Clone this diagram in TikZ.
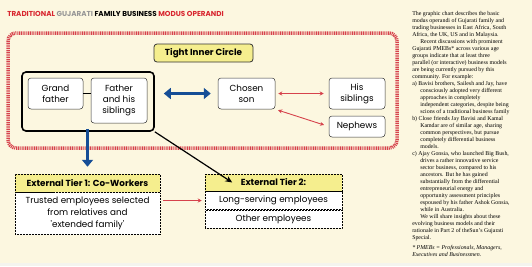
\documentclass[tikz,border=0pt]{standalone}
\usepackage{fontspec}
\setmainfont{Liberation Serif}
\newfontfamily\gothic{Poppins}
\usetikzlibrary{arrows.meta,calc}

\definecolor{cream}{RGB}{252,247,224}
\definecolor{strip}{RGB}{244,244,238}
\definecolor{tieryellow}{RGB}{245,238,142}
\definecolor{hatchred}{RGB}{214,66,76}
\definecolor{titlered}{RGB}{216,38,47}
\definecolor{titlegrey}{RGB}{150,150,150}
\definecolor{arrowblue}{RGB}{22,78,150}

\begin{document}
\begin{tikzpicture}[x=1pt,y=-1pt,line width=0.5pt,
    member/.style={draw=black!80,fill=white,rounded corners=3pt,align=center,
      inner sep=0pt,font=\gothic\fontsize{8.8}{11}\selectfont},
    tierhead/.style={draw,densely dotted,fill=tieryellow,inner sep=0pt,
      font=\gothic\bfseries\fontsize{8.8}{11}\selectfont},
    tierrow/.style={draw,densely dotted,fill=white,inner sep=0pt,align=center,
      font=\gothic\fontsize{8.8}{12}\selectfont},
    redarrow/.style={hatchred,line width=0.9pt,{Stealth[length=4pt,width=4pt]}-{Stealth[length=4pt,width=4pt]}}]
  % page
  \fill[cream] (0,0) rectangle (532,266);
  \fill[strip] (0,263) rectangle (532,266);
  \node[anchor=west,inner sep=0pt,font=\gothic\bfseries\fontsize{7.2}{8}\selectfont]
    (title) at (7,14) {\textcolor{titlered}{TRADITIONAL} \textcolor{titlegrey}{GUJARATI}
    FAMILY BUSINESS \textcolor{titlered}{MODUS OPERANDI}};
  % family circle
  \draw[hatchred,line width=3.5pt,dash pattern=on 1pt off 0.8pt,rounded corners=8pt]
    (8,33) rectangle (397,148);
  \node[draw=black!80,fill=tieryellow,rounded corners=3pt,line width=0.8pt,
    minimum width=99pt,minimum height=18pt,inner sep=0pt,
    font=\gothic\bfseries\fontsize{8.8}{11}\selectfont] (inner) at (203.5,53) {Tight Inner Circle};
  \node[draw,line width=1.6pt,rounded corners=4pt,minimum width=132pt,minimum height=59pt]
    (elders) at (88,101.5) {};
  \node[member,minimum width=55pt,minimum height=31pt] (grand) at (55.5,93.5) {Grand\\father};
  \node[member,minimum width=56pt,minimum height=45pt] (father) at (119,100.5) {Father\\and his\\siblings};
  \node[member,minimum width=57pt,minimum height=31pt] (son) at (246.5,93.5) {Chosen\\son};
  \node[member,minimum width=56pt,minimum height=31pt] (siblings) at (357,93.5) {His\\siblings};
  \node[member,minimum width=56pt,minimum height=21pt] (nephews) at (357,126.5) {Nephews};
  \draw[line width=1pt] (grand.east) -- (grand.east -| father.west);
  \draw[arrowblue,line width=2.4pt,{Triangle[length=7pt,width=11pt]}-{Triangle[length=7pt,width=11pt]},
    shorten <=9pt,shorten >=7pt] (son.west -| elders.east) -- (son.west);
  \draw[redarrow,shorten <=3pt,shorten >=5pt] (son.east) -- (siblings.west);
  \draw[redarrow,shorten <=3pt,shorten >=5pt] (son.south east) -- (nephews.west);
  % external tiers
  \node[tierhead,minimum width=145pt,minimum height=18pt] (tierone) at (87.5,183) {External Tier 1: Co-Workers};
  \node[tierrow,minimum width=145pt,minimum height=42pt,anchor=north] (trusted) at (tierone.south)
    {Trusted employees selected\\from relatives and\\'extended family'};
  \node[tierhead,minimum width=137pt,minimum height=17pt] (tiertwo) at (273.5,182.5) {External Tier 2:};
  \node[tierrow,minimum width=137pt,minimum height=18pt,anchor=north] (longserving) at (tiertwo.south)
    {Long-serving employees};
  \node[tierrow,minimum width=137pt,minimum height=18pt,anchor=north] (others) at (longserving.south)
    {Other employees};
  \draw[arrowblue,line width=2.4pt,-{Triangle[length=7pt,width=11pt]},shorten >=7pt]
    (elders.south -| tierone.north) ++(0,-3) -- (tierone.north);
  \draw[line width=1.2pt,-{Stealth[length=7pt,width=6pt]}]
    (elders.south east) -- ($(tiertwo.west)!0.2!(tiertwo.east)$);
  \draw[hatchred,line width=0.9pt,-{Stealth[length=4pt,width=4pt]},shorten <=3pt,shorten >=3pt]
    (longserving.west -| trusted.east) -- (longserving.west);
  % side column
  \node[anchor=north west,inner sep=0pt,align=left,font=\fontsize{5.9}{7}\selectfont] (story) at (412,11)
    {The graphic chart describes the basic\\
     modus operandi of Gujarati family and\\
     trading businesses in East Africa, South\\
     Africa, the UK, US and in Malaysia.\\
     \hspace*{8pt}Recent discussions with prominent\\
     Gujarati PMEBs* across various age\\
     groups indicate that at least three\\
     parallel (or interactive) business models\\
     are being currently pursued by this\\
     community. For example:\\
     a) Bavisi brothers, Sailesh and Jay, have\\
     \hspace*{8pt}consciously adopted very different\\
     \hspace*{8pt}approaches in completely\\
     \hspace*{8pt}independent categories, despite being\\
     \hspace*{8pt}scions of a traditional business family\\
     b) Close friends Jay Bavisi and Kamal\\
     \hspace*{8pt}Kamdar are of similar age, sharing\\
     \hspace*{8pt}common perspectives, but pursue\\
     \hspace*{8pt}completely differential business\\
     \hspace*{8pt}models.\\
     c) Ajay Gonsia, who launched Big Bush,\\
     \hspace*{8pt}drives a rather innovative service\\
     \hspace*{8pt}sector business, compared to his\\
     \hspace*{8pt}ancestors. But he has gained\\
     \hspace*{8pt}substantially from the differential\\
     \hspace*{8pt}entrepreneurial energy and\\
     \hspace*{8pt}opportunity assessment principles\\
     \hspace*{8pt}espoused by his father Ashok Gonsia,\\
     \hspace*{8pt}while in Australia.\\
     \hspace*{8pt}We will share insights about these\\
     evolving business models and their\\
     rationale in Part 2 of theSun's Gujarati\\
     Special.\\[3pt]
     \textit{* PMEBs = Professionals, Managers,}\\
     \textit{Executives and Businessmen.}};
\end{tikzpicture}
\end{document}
